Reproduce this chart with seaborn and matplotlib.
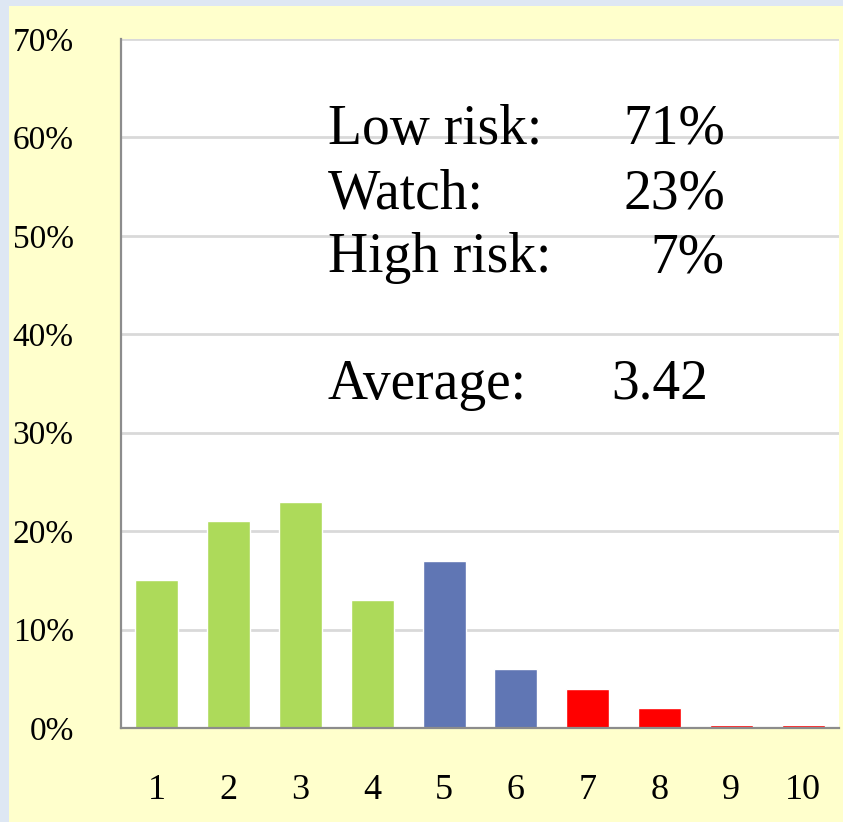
import matplotlib
matplotlib.use("Agg")
import matplotlib.pyplot as plt
import seaborn as sns
import pandas as pd
from matplotlib.patches import Rectangle
from matplotlib.ticker import FuncFormatter

scores = ["1", "2", "3", "4", "5", "6", "7", "8", "9", "10"]
share = [15, 21, 23, 13, 17, 6, 4, 2, 0.35, 0.3]
risk = ["low", "low", "low", "low", "watch", "watch", "high", "high", "high", "high"]
risk_colors = {"low": "#ADDA5A", "watch": "#6076B4", "high": "#FF0000"}

summary_labels = ["Low risk:", "Watch:", "High risk:"]
summary_values = ["71%", "23%", "7%"]
average = "3.42"

sns.set_style("white")
plt.rcParams["font.family"] = ["Liberation Serif", "DejaVu Serif"]
plt.rcParams["text.color"] = "black"

df = pd.DataFrame({"score": scores, "share": share, "risk": risk})

fig = plt.figure(figsize=(8.43, 8.22), dpi=100, facecolor="#DEE7F3")
fig.patches.append(Rectangle((9 / 843, 0), 1, 816 / 822, transform=fig.transFigure,
                             facecolor="#FFFFCC", edgecolor="none", zorder=-10))
ax = fig.add_axes([121 / 843, 94 / 822, 718 / 843, 689 / 822])
ax.set_facecolor("white")

sns.barplot(data=df, x="score", y="share", hue="risk", palette=risk_colors,
            dodge=False, width=0.6, legend=False, saturation=1, ax=ax, zorder=3)

ax.set_ylim(0, 70)
ax.set_xlim(-0.5, 9.5)
ax.set_yticks(range(0, 71, 10))
ax.yaxis.set_major_formatter(FuncFormatter(lambda v, p: f"{v:.0f}%"))
ax.grid(axis="y", color="#D9D9D9", linewidth=2, zorder=0)
ax.set_axisbelow(True)
ax.set_xlabel("")
ax.set_ylabel("")

for s in ["top", "right"]:
    ax.spines[s].set_visible(False)
for s in ["left", "bottom"]:
    ax.spines[s].set_color("#8C8C8C")
    ax.spines[s].set_linewidth(1.6)
    ax.spines[s].set_zorder(4)

ax.tick_params(axis="y", length=14, width=1.6, color="#8C8C8C", labelcolor="black",
               labelsize=24, pad=20)
ax.tick_params(axis="x", length=0, labelcolor="black", labelsize=26, pad=33)

txt = dict(transform=ax.transAxes, fontsize=40, va="center", color="black")
rows = [0.868, 0.774, 0.682]
for y, name, val in zip(rows, summary_labels, summary_values):
    ax.text(0.288, y, name, ha="left", **txt)
    ax.text(0.841, y, val, ha="right", **txt)
ax.text(0.288, 0.498, "Average:", ha="left", **txt)
ax.text(0.818, 0.498, average, ha="right", **txt)

fig.savefig("out.png", dpi=100, facecolor=fig.get_facecolor())
